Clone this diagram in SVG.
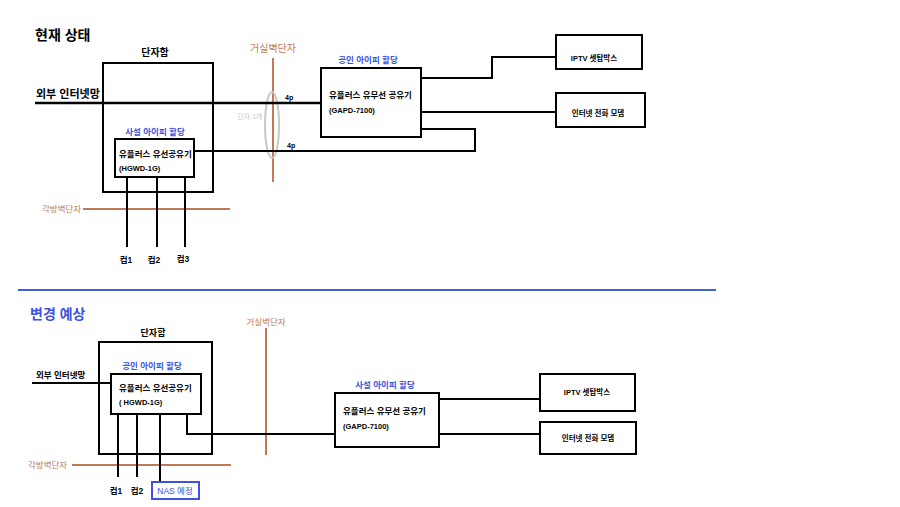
<svg xmlns="http://www.w3.org/2000/svg" width="900" height="507" viewBox="0 0 900 507">
<style>
text{font-family:"Liberation Sans","Noto Sans CJK KR",sans-serif;font-weight:bold;fill:#000}
.t{font-size:14px}
.m{font-size:10px}
.s{font-size:8.5px}
.x{font-size:7.5px}
.b{fill:#4050e0}
.br{fill:#c07a55;font-weight:normal}
.g{fill:#c8c8c8;font-weight:normal}
.box{fill:#fff;stroke:#000;stroke-width:2}
.ln{fill:none;stroke:#000;stroke-width:2}
.bw{fill:none;stroke:#c07a55;stroke-width:2}
</style>
<rect width="900" height="507" fill="#fff"/>

<!-- Current state -->
<text class="t" x="35" y="40">현재 상태</text>
<g id="box1">
<rect x="103" y="63" width="110" height="129" fill="none" stroke="#000" stroke-width="2"/>
<text class="m" x="155" y="56" text-anchor="middle">단자함</text>
</g>
<g id="wall1">
<line class="bw" x1="273" y1="58" x2="273" y2="182"/>
<text class="m br" x="273" y="52" text-anchor="middle">거실벽단자</text>
<ellipse cx="272" cy="125" rx="7" ry="33" fill="none" stroke="#c8c8c8" stroke-width="2"/>
<text class="g" x="250" y="119" text-anchor="middle" style="font-size:7px">단자 1개</text>
</g>
<g id="room1">
<line class="bw" x1="83" y1="209" x2="230" y2="209"/>
<text class="s br" x="42" y="212">각방벽단자</text>
</g>
<g id="connectors1">
<line class="ln" x1="35" y1="103" x2="321" y2="103" style="stroke-width:2.5"/>
<polyline class="ln" points="194,151 475,151 475,129 421,129"/>
<polyline class="ln" points="421,78 492,78 492,57 556,57"/>
<line class="ln" x1="421" y1="112" x2="556" y2="112"/>
<line class="ln" x1="127" y1="177" x2="127" y2="247"/>
<line class="ln" x1="157" y1="177" x2="157" y2="247"/>
<line class="ln" x1="185" y1="177" x2="185" y2="247"/>
<text x="285" y="100" style="font-size:7px">4p</text>
<text x="287" y="148" style="font-size:7px">4p</text>
</g>
<text x="36" y="98" style="font-size:11px">외부 인터넷망</text>
<g id="hgwd1">
<rect class="box" x="115" y="139" width="79" height="38"/>
<text class="s b" x="155" y="135" text-anchor="middle">사설 아이피 할당</text>
<text class="s" x="119" y="157">유플러스 유선공유기</text>
<text class="x" x="119" y="171">(HGWD-1G)</text>
</g>
<g id="gapd1">
<rect class="box" x="321" y="68" width="100" height="69"/>
<text class="s b" x="368" y="63" text-anchor="middle">공인 아이피 할당</text>
<text class="s" x="329" y="98">유플러스 유무선 공유기</text>
<text class="x" x="329" y="113">(GAPD-7100)</text>
</g>
<g id="iptv1">
<rect class="box" x="556" y="35" width="86" height="34"/>
<text class="x" x="594" y="61" text-anchor="middle">IPTV 셋탑박스</text>
</g>
<g id="phone1">
<rect class="box" x="556" y="93" width="89" height="34"/>
<text class="x" x="598" y="116" text-anchor="middle">인터넷 전화 모뎀</text>
</g>
<g id="pcs1">
<text class="s" x="126" y="263" text-anchor="middle">컴1</text>
<text class="s" x="154" y="263" text-anchor="middle">컴2</text>
<text class="s" x="183" y="262" text-anchor="middle">컴3</text>
</g>

<line x1="18" y1="290" x2="716" y2="290" stroke="#4060e0" stroke-width="2"/>

<!-- Expected change -->
<text class="t b" x="30" y="319">변경 예상</text>
<g id="box2">
<rect x="99" y="342" width="113" height="112" fill="none" stroke="#000" stroke-width="2"/>
<text class="s" x="153" y="336" text-anchor="middle" style="font-size:9px">단자함</text>
</g>
<g id="wall2">
<line class="bw" x1="266" y1="328" x2="266" y2="455"/>
<text class="s br" x="266" y="325" text-anchor="middle">거실벽단자</text>
</g>
<g id="room2">
<line class="bw" x1="72" y1="465" x2="231" y2="465"/>
<text class="s br" x="28" y="468">각방벽단자</text>
</g>
<g id="connectors2">
<line class="ln" x1="32" y1="383" x2="111" y2="383"/>
<polyline class="ln" points="187,414 187,434 335,434"/>
<line class="ln" x1="439" y1="399" x2="540" y2="399"/>
<line class="ln" x1="439" y1="434" x2="540" y2="434"/>
<line class="ln" x1="118" y1="414" x2="118" y2="477"/>
<line class="ln" x1="137" y1="414" x2="137" y2="477"/>
<line class="ln" x1="160" y1="414" x2="160" y2="482"/>
</g>
<text class="s" x="36" y="378">외부 인터넷망</text>
<g id="hgwd2">
<rect class="box" x="111" y="374" width="90" height="40"/>
<text class="s b" x="152" y="369" text-anchor="middle">공인 아이피 할당</text>
<text class="s" x="119" y="391">유플러스 유선공유기</text>
<text class="x" x="119" y="405">( HGWD-1G)</text>
</g>
<g id="gapd2">
<rect class="box" x="335" y="393" width="104" height="54"/>
<text class="s b" x="385" y="388" text-anchor="middle">사설 아이피 할당</text>
<text class="s" x="343" y="414">유플러스 유무선 공유기</text>
<text class="x" x="343" y="429">(GAPD-7100)</text>
</g>
<g id="iptv2">
<rect class="box" x="540" y="374" width="95" height="37"/>
<text class="x" x="587" y="395" text-anchor="middle">IPTV 셋탑박스</text>
</g>
<g id="phone2">
<rect class="box" x="540" y="422" width="96" height="32"/>
<text class="x" x="588" y="441" text-anchor="middle">인터넷 전화 모뎀</text>
</g>
<g id="pcs2">
<text class="s" x="116" y="494" text-anchor="middle">컴1</text>
<text class="s" x="137" y="494" text-anchor="middle">컴2</text>
</g>
<g id="nas">
<rect x="152" y="482" width="47" height="17" fill="#fff" stroke="#4050e0" stroke-width="2"/>
<text class="s b" x="175" y="494" text-anchor="middle" style="font-weight:normal">NAS 예정</text>
</g>
</svg>
